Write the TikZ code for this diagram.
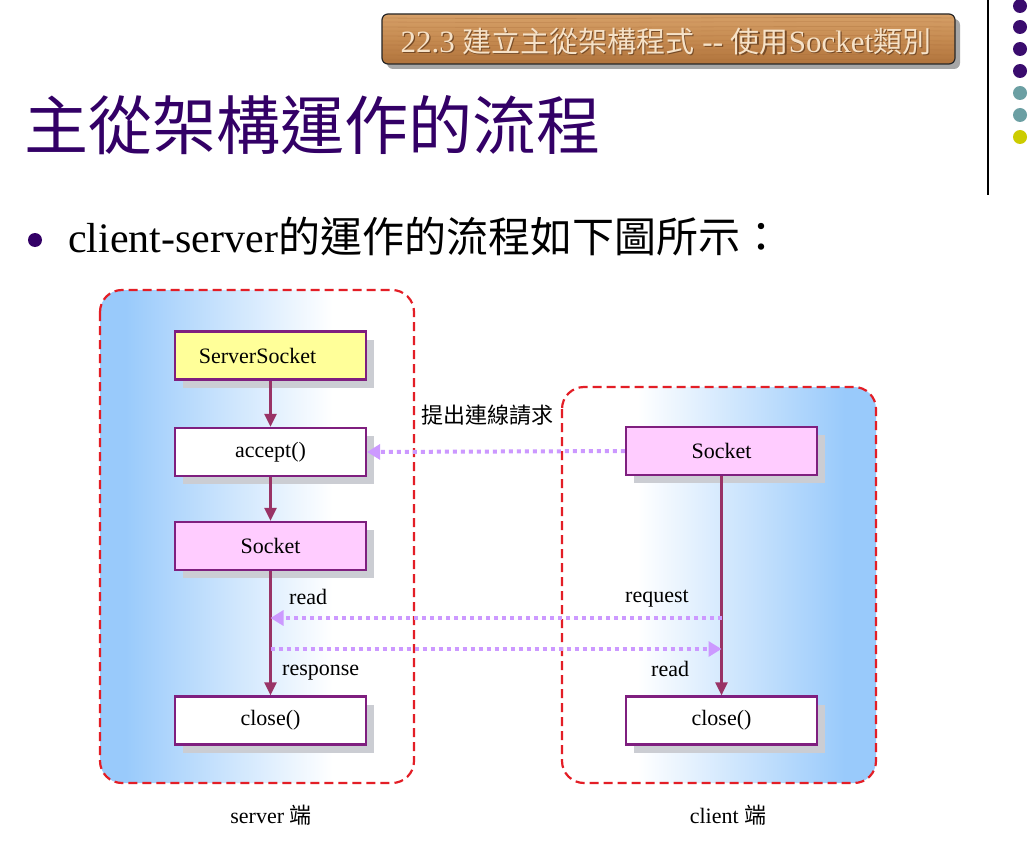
\documentclass[tikz,border=0pt]{standalone}
\usepackage{fontspec}
\setmainfont{Liberation Serif}
\newfontfamily\cjk{Noto Sans CJK TC}
\usetikzlibrary{arrows.meta,shadows}

\definecolor{titlepurple}{HTML}{330066}
\definecolor{dotpurple}{HTML}{3A0C6E}
\definecolor{dotteal}{HTML}{6B9FA3}
\definecolor{dotyellow}{HTML}{CCCC00}
\definecolor{boxedge}{HTML}{7F1F7F}
\definecolor{flowline}{HTML}{993366}
\definecolor{msgline}{HTML}{CC99FF}
\definecolor{zoneedge}{HTML}{E31E26}
\definecolor{sky}{HTML}{99CAFB}
\definecolor{paleyellow}{HTML}{FFFF99}
\definecolor{palepink}{HTML}{FFCCFF}
\definecolor{shadowgray}{HTML}{CBCDD3}
\definecolor{woodlight}{HTML}{D6A068}
\definecolor{woodmid}{HTML}{C68B51}
\definecolor{wooddark}{HTML}{B0733C}
\definecolor{woodgrain}{HTML}{A86C38}
\definecolor{bannertext}{HTML}{F6E2C8}

% zone fills: sky blue fading to white (server) and white to sky blue (client)
\pgfdeclarehorizontalshading{serverzone}{100bp}{color(0bp)=(sky); color(29bp)=(sky); color(62bp)=(white); color(100bp)=(white)}
\pgfdeclarehorizontalshading{clientzone}{100bp}{color(0bp)=(white); color(37bp)=(white); color(70bp)=(sky); color(100bp)=(sky)}

\newcommand{\bannerline}{22.3 {\cjk\fontsize{29}{29}\selectfont 建立主從架構程式} -{}- {\cjk\fontsize{29}{29}\selectfont 使用}Socket{\cjk\fontsize{29}{29}\selectfont 類別}}

\begin{document}
\begin{tikzpicture}[x=1pt,y=-1pt,
  zone/.style={draw=zoneedge, line width=2.2pt, dash pattern=on 9pt off 5pt, rounded corners=22pt},
  flowbox/.style={draw=boxedge, line width=2.2pt, minimum width=191pt, minimum height=48pt,
    inner sep=0pt, font=\fontsize{22}{22}\selectfont,
    drop shadow={shadow xshift=8pt, shadow yshift=-8pt, fill=shadowgray, opacity=1}},
  flow/.style={draw=flowline, line width=2.4pt, -{Triangle[length=13pt,width=12pt]}},
  msg/.style={draw=msgline, line width=4pt, dash pattern=on 4pt off 4pt,
    -{Triangle[length=13pt,width=15pt]}},
  lbl/.style={inner sep=0pt, font=\fontsize{22}{22}\selectfont},
  dot/.style={circle, inner sep=0pt, minimum size=14pt}]

\useasboundingbox (0,0) rectangle (1030,845);
\fill[white] (0,0) rectangle (1030,845);

% ---- section banner (wood plate) ----
\fill[black!35] (387,19) [rounded corners=6pt] rectangle (960,69);
\begin{scope}
  \clip[rounded corners=6pt] (382,14) rectangle (955,64);
  \shade[top color=woodlight, bottom color=wooddark, middle color=woodmid] (382,14) rectangle (955,64);
  \foreach \y/\o in {18/0.35,22/0.25,27/0.3,31/0.2,36/0.3,41/0.25,45/0.35,50/0.2,55/0.3,60/0.25}
    \draw[woodgrain, opacity=\o, line width=0.8pt] (382,\y) .. controls (600,\y+1.5) and (760,\y-1.5) .. (955,\y);
\end{scope}
\draw[black!85, line width=1.2pt, rounded corners=6pt] (382,14) rectangle (955,64);
\node[inner sep=0pt, text=woodgrain!70!black, font=\fontsize{31}{31}\selectfont] (bannerrim) at (667.2,42.2) {\bannerline};
\node[inner sep=0pt, text=bannertext, font=\fontsize{31}{31}\selectfont] (banner) at (666,41) {\bannerline};

% ---- side rule and dots ----
\draw[black, line width=1.2pt] (988,0) -- (988,195);
\node[dot, fill=dotpurple] (d1) at (1020,6) {};
\node[dot, fill=dotpurple] (d2) at (1020,27) {};
\node[dot, fill=dotpurple] (d3) at (1020,49) {};
\node[dot, fill=dotpurple] (d4) at (1020,71) {};
\node[dot, fill=dotteal] (d5) at (1020,93) {};
\node[dot, fill=dotteal] (d6) at (1020,115) {};
\node[dot, fill=dotyellow] (d7) at (1020,137) {};

% ---- title and bullet line ----
\node[inner sep=0pt, text=titlepurple, font=\cjk\fontsize{64}{64}\selectfont] (title) at (312,125) {主從架構運作的流程};
\node[dot, fill=titlepurple] (bullet) at (35,240) {};
\node[anchor=base west, inner sep=0pt, font=\fontsize{42}{42}\selectfont] (intro) at (68,252)
  {client-server{\cjk 的運作的流程如下圖所示：}};

% ---- server / client zones ----
\shadedraw[zone, shading=serverzone] (100,290) rectangle (414,783);
\shadedraw[zone, shading=clientzone] (562,387) rectangle (876,783);

% ---- server side ----
\node[flowbox, fill=paleyellow] (ssock) at (270.5,355.5) {ServerSocket\hspace*{26pt}};
\node[flowbox, fill=white] (accept) at (270.5,452) {accept()};
\node[flowbox, fill=palepink] (srvsock) at (270.5,546) {Socket};
\node[flowbox, fill=white] (srvclose) at (270.5,720.5) {close()};

% ---- client side ----
\node[flowbox, fill=palepink] (clisock) at (721.5,451) {Socket};
\node[flowbox, fill=white] (cliclose) at (721.5,720.5) {close()};

% ---- flow inside each side ----
\draw[flow] (ssock) -- (accept);
\draw[flow] (accept) -- (srvsock);
\draw[flow] (srvsock) -- (srvclose);
\draw[flow] (clisock) -- (cliclose);

% ---- messages between the two sides ----
\coordinate (cliReq) at (clisock.south |- 0,618);
\coordinate (srvReq) at (srvsock.south |- 0,618);
\coordinate (srvResp) at (srvsock.south |- 0,649);
\coordinate (cliResp) at (clisock.south |- 0,649);
\draw[msg] (clisock.west) -- (accept.east);
\draw[msg] (cliReq) -- (srvReq);
\draw[msg] (srvResp) -- (cliResp);

% ---- labels ----
\node[inner sep=0pt, font=\cjk\fontsize{22}{22}\selectfont] (connlbl) at (487,415) {提出連線請求};
\node[lbl, anchor=base west] (srvread) at (289,604) {read};
\node[lbl, anchor=base west] (clireq) at (625,602) {request};
\node[lbl, anchor=base west] (srvresp) at (282,675) {response};
\node[lbl, anchor=base west] (cliread) at (651,676) {read};
\node[lbl] (srvname) at (271,815) {server {\cjk 端}};
\node[lbl] (cliname) at (728,815) {client {\cjk 端}};
\end{tikzpicture}
\end{document}
